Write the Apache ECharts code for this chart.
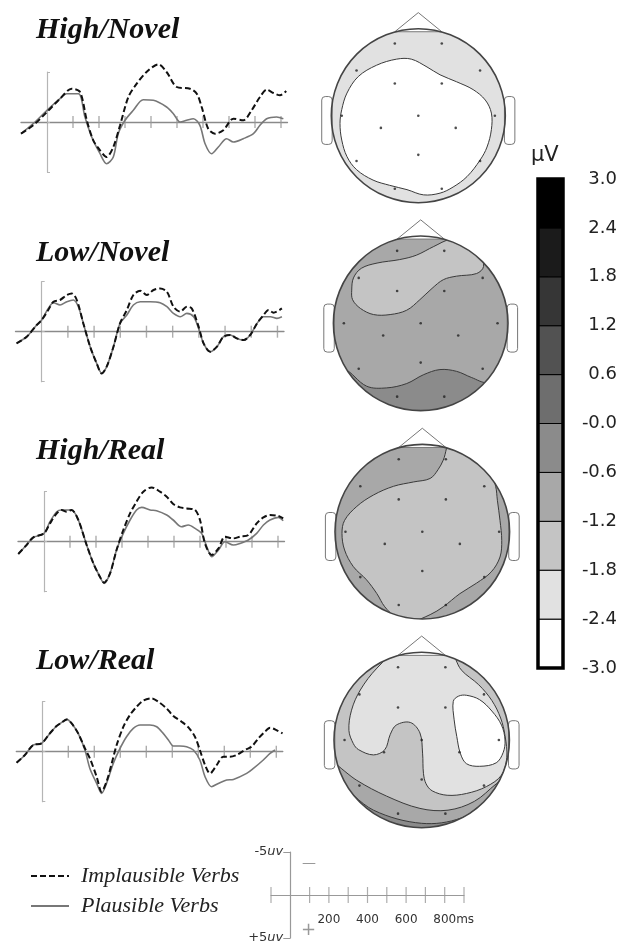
<!DOCTYPE html>
<html><head><meta charset="utf-8">
<script src="https://cdn.jsdelivr.net/npm/echarts@6/dist/echarts.min.js"></script>
<style>html,body{margin:0;padding:0;background:#fff}#c{width:630px;height:946px}</style>
</head><body><div id="c"></div>
<script>
// ---------------- DATA ----------------
const panelTitles = ['High/Novel', 'Low/Novel', 'High/Real', 'Low/Real'];
const seriesNames = ['Implausible Verbs', 'Plausible Verbs'];
// ERP waveforms [ms, µV] (negative plotted up)
const highNovelImplausible = [[-100,1.17],[-53,0.33],[0,-1.0],[50,-2.33],[95,-3.33],[127,-3.0],[153,-0.17],[178,1.83],[204,2.83],[229,3.5],[255,2.5],[281,0.33],[313,-2.5],[345,-3.83],[383,-5.0],[428,-5.77],[460,-5.0],[499,-3.5],[550,-3.33],[576,-2.83],[595,-1.5],[620,0.67],[646,1.17],[678,0.83],[717,-0.33],[755,-0.17],[787,-1.17],[819,-2.5],[845,-3.23],[871,-2.9],[896,-2.67],[920,-3.1]];
const highNovelPlausible = [[-100,1.17],[-53,0.17],[0,-1.17],[50,-2.33],[76,-2.83],[121,-2.83],[146,-0.5],[172,1.5],[204,3.17],[229,4.17],[255,3.5],[274,1.17],[300,-0.17],[332,-1.17],[370,-2.23],[409,-2.17],[460,-1.5],[486,-0.83],[512,0],[537,-0.17],[563,-0.33],[588,0.33],[608,2.17],[633,3.17],[659,2.5],[691,1.67],[717,2.0],[755,1.67],[794,1.17],[819,0.33],[845,-0.33],[883,-0.5],[909,-0.33]];
const lowNovelImplausible = [[-96,1.17],[-57,0.5],[-19,-0.67],[0,-1.17],[25,-2.17],[45,-3.0],[70,-3.17],[96,-3.67],[115,-3.83],[134,-3.17],[159,-0.83],[185,1.5],[210,3.17],[229,4.17],[248,3.5],[274,1.5],[299,-0.83],[325,-2.17],[350,-3.67],[376,-4.1],[401,-3.67],[427,-4.17],[452,-4.33],[478,-4.0],[503,-2.5],[529,-2.0],[554,-2.5],[573,-2.33],[599,-0.5],[618,1.17],[643,2.0],[669,1.5],[694,0.5],[720,0.33],[745,0.67],[771,0.83],[796,0.33],[822,-0.83],[847,-1.67],[866,-2.17],[885,-1.9],[917,-2.33]];
const lowNovelPlausible = [[-96,1.17],[-57,0.5],[-19,-0.67],[0,-1.17],[25,-2.33],[45,-2.9],[70,-2.67],[96,-3.0],[121,-3.17],[140,-2.5],[159,-0.83],[185,1.5],[210,3.17],[229,4.17],[248,3.5],[274,1.5],[299,-0.83],[325,-1.67],[350,-2.67],[376,-3.0],[414,-3.0],[452,-2.9],[478,-2.5],[503,-1.83],[529,-1.5],[554,-1.83],[580,-1.5],[599,-0.33],[618,1.17],[643,2.0],[669,1.5],[694,0.5],[720,0.33],[745,0.67],[771,0.83],[796,0.33],[822,-0.83],[847,-1.5],[873,-1.5],[898,-1.33],[917,-1.5]];
const highRealImplausible = [[-99,1.23],[-67,0.33],[-41,-0.43],[0,-0.83],[23,-1.83],[49,-2.83],[68,-3.17],[87,-3.0],[106,-3.17],[132,-2.17],[164,0.33],[190,2.17],[215,3.5],[231,4.1],[254,3.17],[279,0.83],[305,-1.17],[331,-2.83],[356,-4.0],[382,-5.0],[414,-5.43],[446,-5.0],[472,-4.5],[497,-3.77],[523,-3.43],[549,-3.33],[581,-3.17],[600,-2.17],[619,0.17],[645,1.33],[671,0.67],[696,-0.5],[728,-0.33],[754,-0.5],[786,-0.67],[818,-1.83],[844,-2.43],[869,-2.67],[901,-2.57],[920,-2.33]];
const highRealPlausible = [[-99,1.23],[-67,0.33],[-41,-0.43],[0,-0.83],[23,-2.0],[49,-3.0],[68,-3.17],[106,-3.17],[132,-2.17],[164,0.33],[190,2.17],[215,3.5],[231,4.17],[254,3.17],[279,0.83],[305,-0.83],[331,-2.17],[356,-3.17],[376,-3.43],[408,-3.17],[433,-3.1],[472,-2.67],[497,-2.17],[529,-1.5],[555,-1.67],[581,-1.33],[606,-0.83],[626,0.5],[645,1.5],[671,0.83],[696,0],[728,0.33],[754,0.17],[786,-0.17],[818,-0.83],[844,-1.67],[869,-2.17],[901,-2.43],[920,-2.1]];
const lowRealImplausible = [[-99,1.1],[-67,0.33],[-35,-0.67],[-3,-0.83],[29,-1.83],[55,-2.57],[74,-2.9],[94,-3.23],[113,-2.83],[138,-1.83],[164,-0.33],[183,0.67],[209,2.5],[228,4.0],[247,3.0],[267,1.17],[286,-0.67],[312,-2.5],[337,-3.67],[363,-4.5],[388,-5.1],[421,-5.33],[446,-5.0],[478,-4.33],[504,-3.57],[536,-3.0],[562,-2.43],[587,-1.5],[606,-0.17],[626,1.33],[645,2.17],[671,1.33],[696,0.5],[722,0.5],[747,0.33],[779,-0.17],[805,-0.5],[831,-1.33],[856,-2.0],[876,-2.4],[895,-2.23],[924,-1.83]];
const lowRealPlausible = [[-99,1.1],[-67,0.33],[-35,-0.67],[-3,-0.83],[29,-1.83],[55,-2.57],[74,-2.9],[94,-3.23],[113,-2.83],[138,-1.83],[164,-0.17],[183,1.67],[209,3.17],[228,4.17],[247,3.17],[273,1.17],[299,-0.33],[324,-1.5],[350,-2.33],[376,-2.67],[414,-2.67],[440,-2.5],[465,-1.83],[485,-1.17],[504,-0.57],[529,-0.57],[555,-0.5],[581,-0.17],[606,0.83],[626,2.5],[651,3.5],[677,3.17],[709,2.83],[735,2.77],[786,2.17],[812,1.67],[850,0.83],[876,0.17],[895,-0.17]];
const implausibleByPanel = [highNovelImplausible, lowNovelImplausible, highRealImplausible, lowRealImplausible];
const plausibleByPanel = [highNovelPlausible, lowNovelPlausible, highRealPlausible, lowRealPlausible];
const tickMs = [100,200,300,400,500,600,700,800,900];

// scale bar
const scaleTickMs = [-100,100,200,300,400,500,600,700,800,900];
const scaleLabels = {200:'200', 400:'400', 600:'600', 800:'{ms|800ms}'};

// colour scale (µV)
const colorbarEdges = [-3.0,-2.4,-1.8,-1.2,-0.6,0,0.6,1.2,1.8,2.4,3.0];
const colorbarLabels = ['-3.0','-2.4','-1.8','-1.2','-0.6','-0.0','0.6','1.2','1.8','2.4','3.0'];
const binColors = ['#ffffff','#e1e1e1','#c4c4c4','#a8a8a8','#8b8b8b','#6e6e6e','#525252','#363636','#1b1b1b','#000000'];

// scalp maps: electrode sites (normalised head coords, y down) and contour regions (bin index)
const electrodes = [[-0.27,-0.83],[0.27,-0.83],[-0.71,-0.52],[0.71,-0.52],[-0.27,-0.37],[0.27,-0.37],[-0.88,0],[0,0],[0.88,0],[-0.43,0.14],[0.43,0.14],[0,0.45],[-0.71,0.52],[0.71,0.52],[-0.27,0.84],[0.27,0.84]];
const highNovelBackground = 1;
const highNovelRegions = [
  {bin:0, pts:[[-0.88,-0.07],[-0.82,-0.26],[-0.69,-0.45],[-0.48,-0.58],[-0.25,-0.65],[-0.08,-0.65],[0.10,-0.56],[0.25,-0.47],[0.44,-0.39],[0.63,-0.30],[0.77,-0.18],[0.84,-0.03],[0.84,0.16],[0.79,0.36],[0.71,0.51],[0.56,0.70],[0.40,0.82],[0.25,0.89],[0.06,0.91],[-0.13,0.85],[-0.33,0.80],[-0.52,0.74],[-0.71,0.62],[-0.82,0.47],[-0.88,0.28],[-0.90,0.09]]}
];
const lowNovelBackground = 3;
const lowNovelRegions = [
  {bin:2, pts:[[-0.79,-0.38],[-0.77,-0.52],[-0.68,-0.63],[-0.50,-0.69],[-0.24,-0.73],[-0.05,-0.78],[0.15,-0.88],[0.34,-0.96],[0.53,-0.93],[0.68,-0.82],[0.72,-0.65],[0.64,-0.57],[0.41,-0.54],[0.26,-0.50],[0.13,-0.40],[-0.01,-0.27],[-0.16,-0.15],[-0.35,-0.10],[-0.54,-0.10],[-0.69,-0.17],[-0.78,-0.27]]},
  {bin:4, pts:[[-0.88,0.52],[-0.62,0.72],[-0.39,0.74],[-0.16,0.69],[0.03,0.59],[0.22,0.53],[0.41,0.55],[0.58,0.62],[0.76,0.68],[0.92,0.6],[0.75,0.85],[0,1.12],[-0.75,0.85],[-1.0,0.58]]}
];
const highRealBackground = 3;
const highRealRegions = [
  {bin:2, pts:[[0.33,-1.05],[0.24,-0.82],[0.18,-0.71],[0.09,-0.61],[-0.10,-0.57],[-0.33,-0.52],[-0.56,-0.42],[-0.75,-0.29],[-0.89,-0.13],[-0.92,0.02],[-0.89,0.21],[-0.79,0.40],[-0.64,0.55],[-0.52,0.71],[-0.43,0.86],[-0.31,0.97],[-0.14,1.03],[0.09,0.95],[0.24,0.86],[0.43,0.71],[0.62,0.59],[0.79,0.46],[0.89,0.29],[0.91,0.10],[0.89,-0.13],[0.86,-0.36],[0.84,-0.52],[0.75,-0.80],[0.55,-0.95]]}
];
const lowRealBackground = 2;
const lowRealRegions = [
  {bin:1, pts:[[-0.24,-1.05],[-0.51,-0.82],[-0.70,-0.57],[-0.80,-0.34],[-0.83,-0.11],[-0.78,0.04],[-0.72,0.11],[-0.55,0.17],[-0.42,0.11],[-0.36,-0.06],[-0.29,-0.17],[-0.13,-0.20],[-0.02,-0.08],[0.01,0.15],[0.02,0.38],[0.05,0.50],[0.12,0.58],[0.29,0.63],[0.51,0.61],[0.74,0.53],[0.91,0.40],[0.97,0.20],[0.95,-0.05],[0.90,-0.25],[0.80,-0.45],[0.65,-0.63],[0.45,-0.80],[0.32,-1.02],[0,-1.1]]},
  {bin:0, pts:[[0.36,-0.44],[0.42,-0.50],[0.51,-0.51],[0.66,-0.46],[0.80,-0.33],[0.91,-0.17],[0.95,0],[0.93,0.14],[0.85,0.26],[0.66,0.30],[0.51,0.27],[0.44,0.15],[0.40,-0.04],[0.37,-0.23]]},
  {bin:3, pts:[[-1.08,0.22],[-0.74,0.46],[-0.40,0.64],[-0.02,0.78],[0.30,0.80],[0.60,0.70],[0.85,0.50],[1.05,0.35],[0.8,0.8],[0,1.12],[-0.8,0.8]]},
  {bin:4, pts:[[-0.95,0.50],[-0.55,0.80],[0,0.95],[0.45,0.89],[0.78,0.68],[0.9,0.75],[0,1.12],[-0.9,0.7]]}
];
const mapBackgrounds = [highNovelBackground, lowNovelBackground, highRealBackground, lowRealBackground];
const mapRegions = [highNovelRegions, lowNovelRegions, highRealRegions, lowRealRegions];

// head outline decorations (normalised)
const nosePts = [[-0.27,-0.965],[0,-1.185],[0.27,-0.965]];
const earBoxes = [[-1.11,-0.22,0.12,0.55],[0.99,-0.22,0.12,0.55]];

// ---------------- LAYOUT ----------------
const erpGrids = [
  {left:21, top:72, width:266.5, height:100},
  {left:15.5, top:281.7, width:268.5, height:100},
  {left:18, top:491.7, width:266.5, height:100},
  {left:16.3, top:701.7, width:266.5, height:100}
];
const heads = [[418.3,115.7,87],[420.7,323.3,87.3],[422.3,531.7,87.3],[421.7,740,87.7]];
const titleTops = [15, 238, 436, 646];

const grid = [], xAxis = [], yAxis = [], series = [], title = [];
const serifTitle = {fontFamily:'Liberation Serif', fontStyle:'italic', fontWeight:'bold', fontSize:30, color:'#111'};
const G = g => Object.assign({outerBoundsMode:'none', containLabel:false}, g);

erpGrids.forEach((g, i) => {
  grid.push(G(g));
  xAxis.push({type:'value', gridIndex:i, min:-100, max:925, axisLine:{onZero:true, lineStyle:{color:'#8a8a8a', width:1.3}}, axisTick:{show:false}, axisLabel:{show:false}, splitLine:{show:false}});
  yAxis.push({type:'value', gridIndex:i, min:-5, max:5, interval:5, inverse:true, axisLine:{onZero:true, lineStyle:{color:'#b5b5b5', width:1.2}}, axisTick:{show:true, inside:true, length:3, lineStyle:{color:'#b5b5b5'}}, axisLabel:{show:false}, splitLine:{show:false}});
  title.push({text:panelTitles[i], left:36, top:titleTops[i], padding:0, textStyle:serifTitle});
  series.push({type:'scatter', xAxisIndex:i, yAxisIndex:i, data:tickMs.map(t => [t, 0]), symbol:'rect', symbolSize:[1.4,12], itemStyle:{color:'#999'}, silent:true, z:2});
  series.push({type:'line', name:seriesNames[1], xAxisIndex:i, yAxisIndex:i, data:plausibleByPanel[i], symbol:'none', smooth:0.3, clip:false, lineStyle:{color:'#777', width:1.6}, itemStyle:{color:'#777'}, z:3});
  series.push({type:'line', name:seriesNames[0], xAxisIndex:i, yAxisIndex:i, data:implausibleByPanel[i], symbol:'none', smooth:0.3, clip:false, lineStyle:{color:'#111', width:2, type:[6,3]}, itemStyle:{color:'#111'}, z:4});
});

function headRender(k) {
  return function (params, api) {
    const c = api.coord([0, 0]);
    const R = api.size([1, 1])[0];
    const P = p => api.coord(p);
    const ch = [];
    ch.push({type:'circle', shape:{cx:c[0], cy:c[1], r:R}, style:{fill:binColors[mapBackgrounds[k]]}});
    mapRegions[k].forEach(reg => {
      ch.push({type:'polygon', shape:{points:reg.pts.map(P), smooth:0.35}, style:{fill:binColors[reg.bin], stroke:'#3a3a3a', lineWidth:1}});
    });
    ch.push({type:'ring', shape:{cx:c[0], cy:c[1], r:R*1.2, r0:R}, style:{fill:'#fff'}});
    earBoxes.forEach(e => {
      const a = P([e[0], e[1]]);
      ch.push({type:'rect', shape:{x:a[0], y:a[1], width:e[2]*R, height:e[3]*R, r:0.04*R}, style:{fill:'#fff', stroke:'#777', lineWidth:1}});
    });
    ch.push({type:'polygon', shape:{points:nosePts.map(P)}, style:{fill:'#fff', stroke:'#777', lineWidth:1}});
    ch.push({type:'circle', shape:{cx:c[0], cy:c[1], r:R}, style:{fill:'none', stroke:'#444', lineWidth:1.6}});
    return {type:'group', children:ch};
  };
}

heads.forEach((h, k) => {
  const gi = 4 + k, [cx, cy, R] = h;
  grid.push(G({left:cx - 1.25*R, top:cy - 1.25*R, width:2.5*R, height:2.5*R}));
  xAxis.push({type:'value', gridIndex:gi, min:-1.25, max:1.25, show:false});
  yAxis.push({type:'value', gridIndex:gi, min:-1.25, max:1.25, inverse:true, show:false});
  series.push({type:'custom', xAxisIndex:gi, yAxisIndex:gi, data:[[0,0]], renderItem:headRender(k), silent:true, z:2});
  series.push({type:'scatter', xAxisIndex:gi, yAxisIndex:gi, data:electrodes, symbol:'circle', symbolSize:2.6, itemStyle:{color:'#222'}, silent:true, z:5});
});

// colour bar
grid.push(G({left:538, top:179, width:25, height:489}));
xAxis.push({type:'value', gridIndex:8, min:0, max:1, show:false});
yAxis.push({type:'value', gridIndex:8, position:'right', min:-3, max:3, interval:0.6,
  axisLine:{show:false}, splitLine:{show:false},
  axisTick:{show:true, length:10, lineStyle:{color:'#000', width:1.5}},
  axisLabel:{show:true, margin:54, align:'right', fontFamily:'DejaVu Sans', fontSize:18, color:'#222', showMinLabel:true, showMaxLabel:true,
    formatter: v => colorbarLabels[Math.round((v + 3) / 0.6)]}});
series.push({type:'custom', xAxisIndex:8, yAxisIndex:8, silent:true, z:2,
  data: binColors.map((c, i) => [0, colorbarEdges[i], colorbarEdges[i+1], i]),
  renderItem: (p, api) => {
    const a = api.coord([0, api.value(2)]), b = api.coord([1, api.value(1)]);
    return {type:'rect', shape:{x:a[0], y:a[1], width:b[0]-a[0], height:b[1]-a[1]}, style:{fill:binColors[api.value(3)], stroke:'#000', lineWidth:1}};
  }});
series.push({type:'custom', xAxisIndex:8, yAxisIndex:8, silent:true, z:3, data:[[0,-3,3]],
  renderItem: (p, api) => {
    const a = api.coord([0, 3]), b = api.coord([1, -3]);
    return {type:'rect', shape:{x:a[0], y:a[1], width:b[0]-a[0], height:b[1]-a[1]}, style:{fill:'none', stroke:'#000', lineWidth:3.5}};
  }});

// scale bar: axes shifted onto the zero lines with offsets
grid.push(G({left:271, top:852, width:193, height:86}));
xAxis.push({type:'value', gridIndex:9, position:'bottom', offset:-43, min:-100, max:900, interval:100, axisLine:{onZero:false, lineStyle:{color:'#999', width:1.2}}, axisTick:{show:false}, splitLine:{show:false},
  axisLabel:{show:true, margin:19, fontFamily:'DejaVu Sans', fontSize:12, color:'#333', showMinLabel:false, showMaxLabel:false,
    formatter: v => scaleLabels[v] || '', rich:{ms:{fontFamily:'DejaVu Sans', fontSize:12, color:'#333', padding:[0,0,0,18]}}}});
yAxis.push({type:'value', gridIndex:9, position:'left', offset:-19.3, min:-5, max:5, interval:5, inverse:true, axisLine:{onZero:false, lineStyle:{color:'#999', width:1.2}}, splitLine:{show:false},
  axisTick:{show:true, length:7, lineStyle:{color:'#999'}},
  axisLabel:{show:true, margin:7, color:'#333', fontFamily:'DejaVu Sans', fontSize:13,
    formatter: v => v === -5 ? '{n|-5}{u|uv}' : (v === 5 ? '{n|+5}{u|uv}' : ''),
    rich:{n:{fontFamily:'DejaVu Sans', fontSize:13, color:'#333'}, u:{fontFamily:'DejaVu Sans', fontSize:13, fontStyle:'italic', color:'#333'}}}});
series.push({type:'scatter', xAxisIndex:9, yAxisIndex:9, data:scaleTickMs.map(t => [t, 0]), symbol:'rect', symbolSize:[1.2,16], itemStyle:{color:'#999'}, silent:true});

const chart = echarts.init(document.getElementById('c'), null, {renderer:'canvas'});
chart.setOption({
  animation:false,
  backgroundColor:'#fff',
  title, grid, xAxis, yAxis, series,
  legend:{data:seriesNames, orient:'vertical', left:30, top:865, padding:0, itemWidth:38, itemHeight:14, itemGap:8, selectedMode:false,
    itemStyle:{opacity:0},
    textStyle:{fontFamily:'Liberation Serif', fontStyle:'italic', fontSize:22, color:'#222', padding:[0,0,0,7]}},
  graphic:[
    {type:'text', left:531, top:145, style:{text:'μV', fontFamily:'DejaVu Sans', fontSize:21, fill:'#222'}},
    {type:'text', left:302, top:856, style:{text:'—', fontFamily:'DejaVu Sans', fontSize:14, fill:'#999'}},
    {type:'text', left:301, top:921, style:{text:'+', fontFamily:'DejaVu Sans', fontSize:18, fill:'#999'}}
  ]
});
</script></body></html>
